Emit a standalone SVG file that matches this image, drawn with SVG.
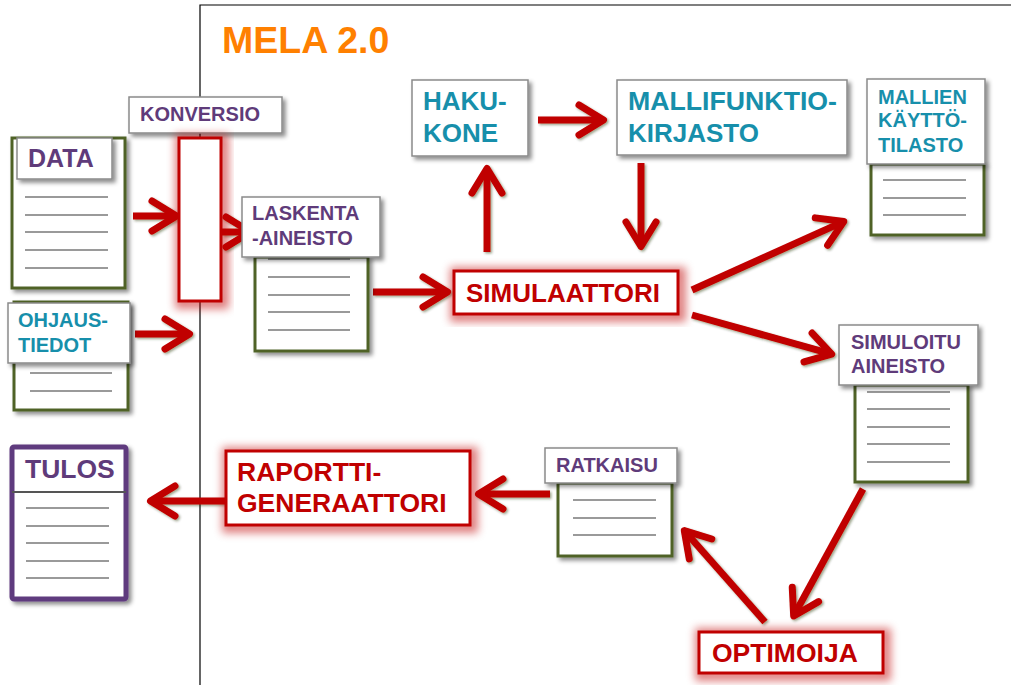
<svg xmlns="http://www.w3.org/2000/svg" width="1011" height="685" viewBox="0 0 1011 685">
<defs>
<style>
.lbl{fill:#fff;stroke:#8a8a8a;stroke-width:1.5;filter:url(#sh)}
.doc{fill:#fff;stroke:#4f6228;stroke-width:3;filter:url(#sh)}
.red{fill:#fff;stroke:#c00000;stroke-width:3}
.glow{fill:none;stroke:#c00000;stroke-width:12;opacity:0.5;filter:url(#gl)}
.ln{stroke:#7a7a7a;stroke-width:1.3}
.t{font-family:"Liberation Sans",Arial,sans-serif;font-weight:bold}
.pu{fill:#5f3b7a}
.te{fill:#178fab}
.rd{fill:#c00000}
.s20{font-size:20px}
.s26{font-size:26px}
.arr{fill:none;stroke:#c00000;stroke-width:7;marker-end:url(#ah)}
</style>
<filter id="sh" x="-20%" y="-20%" width="150%" height="150%">
<feDropShadow dx="3" dy="3" stdDeviation="2" flood-color="#000" flood-opacity="0.45"/>
</filter>
<filter id="gl" x="-30%" y="-30%" width="160%" height="160%">
<feOffset dx="1.5" dy="1.5"/>
<feGaussianBlur stdDeviation="4"/>
</filter>
<filter id="ash" x="-20%" y="-20%" width="140%" height="140%">
<feDropShadow dx="1.5" dy="1.5" stdDeviation="1" flood-color="#203000" flood-opacity="0.45"/>
</filter>
<marker id="ah" markerUnits="userSpaceOnUse" orient="auto" refX="0" refY="0" markerWidth="40" markerHeight="40" overflow="visible">
<path d="M-23,-15 L1.5,0 L-23,15" fill="none" stroke="#c00000" stroke-width="7" stroke-linejoin="round" stroke-linecap="round"/>
</marker>
</defs>
<rect width="1011" height="685" fill="#fff"/>
<path d="M200,685 V5 H1011" fill="none" stroke="#000" stroke-width="1.2"/>
<text class="t" x="222" y="53" font-size="37.5" fill="#ff8000">MELA 2.0</text>

<g id="connectors" filter="url(#ash)">
<path class="arr" d="M133,216 H175"/>
<path class="arr" d="M222,232 H249"/>
<path class="arr" d="M135,334 H188"/>
<path class="arr" d="M373,292 H446"/>
<path class="arr" d="M487,252 V170"/>
<path class="arr" d="M538,120 H602"/>
<path class="arr" d="M641,163 V245"/>
<path class="arr" d="M692,290 L842.4,222.1"/>
<path class="arr" d="M692,315 L830.2,353.7"/>
<path class="arr" d="M863,489 L794.4,614.6"/>
<path class="arr" d="M765,622 L685.3,531.7"/>
<path class="arr" d="M550,494 H480"/>
<path class="arr" d="M227,501 H152"/>
</g>

<g id="data">
<rect class="doc" x="12" y="138" width="113" height="150"/>
<path class="ln" d="M25,197 H108 M25,215 H108 M25,232 H108 M25,250 H108 M25,268 H108"/>
<rect class="lbl" x="17" y="138" width="95" height="41"/>
<text class="t pu" x="28" y="167" font-size="25">DATA</text>
</g>

<g id="ohjaustiedot">
<rect class="doc" x="14" y="302" width="114" height="108"/>
<path class="ln" d="M30,373 H112 M30,391 H112"/>
<rect class="lbl" x="8" y="303" width="122" height="60"/>
<text class="t te s20" x="18" y="327">OHJAUS-</text>
<text class="t te s20" x="18" y="352">TIEDOT</text>
</g>

<g id="konversio">
<rect class="lbl" x="129" y="97" width="153" height="36"/>
<text class="t pu s20" x="140" y="121">KONVERSIO</text>
<rect class="glow" x="179" y="138" width="42" height="163"/>
<rect class="red" x="179" y="138" width="42" height="163"/>
</g>

<g id="laskenta">
<rect class="doc" x="255" y="257" width="113" height="94"/>
<path class="ln" d="M268,259 H350 M268,277 H350 M268,295 H350 M268,312 H350 M268,330 H350"/>
<rect class="lbl" x="242" y="197" width="138" height="60"/>
<text class="t pu s20" x="252" y="220">LASKENTA</text>
<text class="t pu s20" x="252" y="245">-AINEISTO</text>
</g>

<g id="hakukone">
<rect class="lbl" x="412" y="80" width="116" height="76"/>
<text class="t te s26" x="423" y="110">HAKU-</text>
<text class="t te s26" x="423" y="142">KONE</text>
</g>

<g id="mallifunktiokirjasto">
<rect class="lbl" x="617" y="80" width="230" height="75"/>
<text class="t te s26" x="628" y="109.5" textLength="209" lengthAdjust="spacingAndGlyphs">MALLIFUNKTIO-</text>
<text class="t te s26" x="628" y="141.5">KIRJASTO</text>
</g>

<g id="mallienkayttotilasto">
<rect class="doc" x="871" y="164" width="113" height="71"/>
<path class="ln" d="M883,180 H966 M883,198 H966 M883,215 H966"/>
<rect class="lbl" x="867" y="79" width="118" height="85"/>
<text class="t te s20" x="878" y="104">MALLIEN</text>
<text class="t te s20" x="878" y="127">KÄYTTÖ-</text>
<text class="t te s20" x="878" y="152">TILASTO</text>
</g>

<g id="simulaattori">
<rect class="glow" x="454" y="271" width="224" height="43"/>
<rect class="red" x="454" y="271" width="224" height="43"/>
<text class="t rd s26" x="466" y="302">SIMULAATTORI</text>
</g>

<g id="simuloituaineisto">
<rect class="doc" x="855" y="385" width="113" height="97"/>
<path class="ln" d="M867,392 H950 M867,409 H950 M867,427 H950 M867,444 H950 M867,462 H950"/>
<rect class="lbl" x="839" y="325" width="139" height="60"/>
<text class="t pu s20" x="851" y="349">SIMULOITU</text>
<text class="t pu s20" x="851" y="373">AINEISTO</text>
</g>

<g id="optimoija">
<rect class="glow" x="699" y="632" width="184" height="41"/>
<rect class="red" x="699" y="632" width="184" height="41"/>
<text class="t rd" x="712" y="662" font-size="26.5">OPTIMOIJA</text>
</g>

<g id="ratkaisu">
<rect class="doc" x="558" y="483" width="114" height="73"/>
<path class="ln" d="M573,500 H656 M573,518 H656 M573,535 H656"/>
<rect class="lbl" x="545" y="448" width="132" height="35"/>
<text class="t pu s20" x="556" y="472">RATKAISU</text>
</g>

<g id="raporttigeneraattori">
<rect class="glow" x="226" y="451" width="244" height="74"/>
<rect class="red" x="226" y="451" width="244" height="74"/>
<text class="t rd" x="237" y="481" font-size="26.5">RAPORTTI-</text>
<text class="t rd" x="237" y="512" font-size="26.5">GENERAATTORI</text>
</g>

<g id="tulos">
<rect x="12" y="447" width="114" height="152" rx="2" fill="#fff" stroke="#5f3a7e" stroke-width="5" filter="url(#sh)"/>
<path d="M12,492 H126" stroke="#555" stroke-width="1.8"/>
<path class="ln" d="M26,508 H109 M26,526 H109 M26,543 H109 M26,561 H109 M26,578 H109"/>
<text class="t pu" x="25" y="478" font-size="26.5">TULOS</text>
</g>
</svg>
